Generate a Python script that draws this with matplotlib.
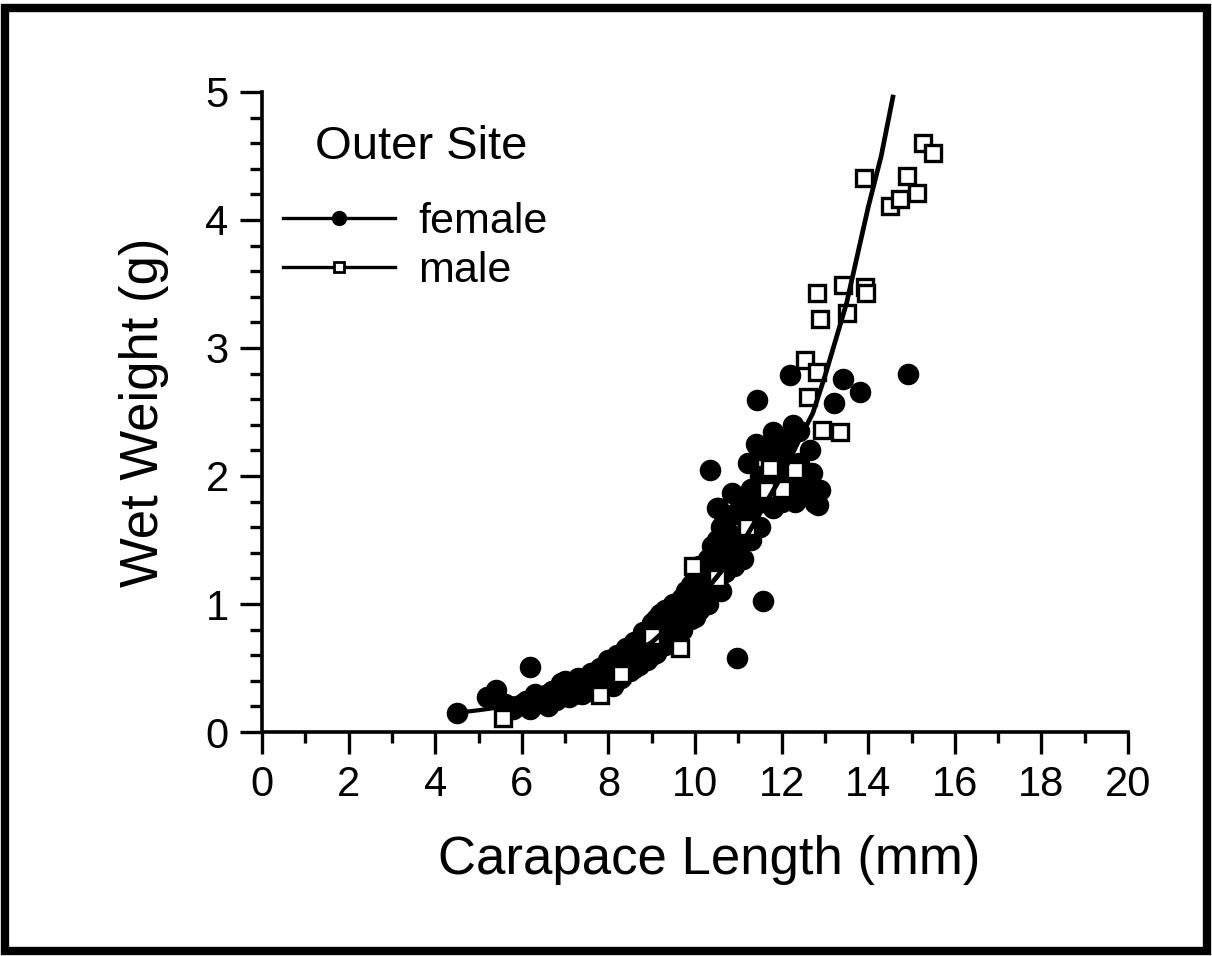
import numpy as np
import matplotlib.pyplot as plt
from matplotlib.lines import Line2D
from matplotlib.patches import Rectangle

plt.rcParams['font.family'] = ['Liberation Sans', 'DejaVu Sans']

# female: carapace length (mm) / wet weight (g)
female_cl = [4.5, 5.2, 5.4, 5.6, 5.8, 5.9, 6.0, 6.1, 6.19, 6.2, 6.3, 6.4, 6.5, 6.6, 6.7, 6.8, 6.9,
             7.0, 7.0, 7.1, 7.2, 7.3, 7.4, 7.5, 7.6, 7.7, 7.8, 7.9, 8.0, 8.0, 8.1, 8.2, 8.2, 8.3,
             8.4, 8.4, 8.5, 8.6, 8.6, 8.7, 8.8, 8.8, 8.9, 9.0, 9.0, 9.1, 9.2, 9.2, 9.3, 9.3, 9.4,
             9.5, 9.5, 9.6, 9.7, 9.7, 9.8, 9.9, 9.9, 10.0, 10.0, 10.1, 10.2, 10.2, 10.3, 10.3,
             10.35, 10.4, 10.4, 10.5, 10.5, 10.53, 10.6, 10.6, 10.65, 10.7, 10.7, 10.8, 10.85,
             10.9, 10.97, 11.0, 11.0, 11.05, 11.1, 11.2, 11.22, 11.3, 11.3, 11.4, 11.43, 11.43,
             11.5, 11.5, 11.57, 11.6, 11.7, 11.8, 11.8, 11.9, 12.0, 12.0, 12.1, 12.19, 12.26,
             12.3, 12.4, 12.5, 12.66, 12.7, 12.77, 12.84, 12.89, 13.2, 13.42, 13.81, 14.92,
             7.4, 7.9, 8.3, 8.7, 9.1, 9.6, 10.1, 6.6, 7.2, 8.5, 9.4, 10.8,
             5.7, 6.3, 6.8, 7.1, 7.5, 7.7, 8.0, 8.1, 8.3, 8.5, 8.6, 8.9, 9.0, 9.1, 9.2, 9.4,
             9.5, 9.6, 9.8, 9.9, 10.0, 10.1, 10.2, 10.3, 10.4, 10.5, 10.6, 10.7, 10.8, 10.9,
             11.0, 11.1, 11.2, 11.3, 11.4, 11.5, 11.6, 11.7, 11.8, 11.9, 12.0, 12.1, 12.2,
             12.3, 12.4, 12.5, 12.6]
female_ww = [0.15, 0.27, 0.33, 0.22, 0.18, 0.20, 0.22, 0.24, 0.51, 0.18, 0.22, 0.25, 0.28, 0.20, 0.32, 0.25, 0.38,
             0.30, 0.40, 0.27, 0.35, 0.42, 0.30, 0.38, 0.46, 0.34, 0.50, 0.40, 0.56, 0.45, 0.36, 0.60, 0.50, 0.42,
             0.66, 0.55, 0.48, 0.70, 0.60, 0.52, 0.78, 0.65, 0.56, 0.85, 0.72, 0.62, 0.92, 0.80, 0.68, 0.95, 0.85,
             0.75, 1.00, 0.90, 0.80, 1.05, 0.95, 1.15, 0.88, 1.05, 1.20, 0.95, 1.25, 1.10, 1.35, 1.00,
             2.05, 1.45, 1.20, 1.30, 1.75, 1.75, 1.60, 1.10, 1.62, 1.40, 1.25, 1.55, 1.87,
             1.30, 0.58, 1.50, 1.70, 1.75, 1.35, 1.65, 2.10, 1.50, 1.90, 2.25, 2.59, 2.24,
             1.60, 2.00, 1.02, 1.80, 2.20, 2.34, 1.75, 2.00, 2.15, 1.80, 1.90, 2.79, 2.40,
             1.95, 2.10, 1.85, 2.20, 2.02, 1.79, 1.77, 1.89, 2.57, 2.76, 2.66, 2.80,
             0.36, 0.47, 0.55, 0.62, 0.80, 0.85, 1.12, 0.30, 0.30, 0.62, 0.92, 1.45,
             0.20, 0.30, 0.33, 0.36, 0.32, 0.44, 0.38, 0.52, 0.58, 0.62, 0.50, 0.70, 0.60, 0.88, 0.70, 0.75,
             0.90, 1.00, 1.10, 1.00, 0.90, 1.30, 1.00, 1.20, 1.35, 1.50, 1.35, 1.55, 1.35, 1.70,
             1.40, 1.80, 1.50, 1.75, 1.60, 2.20, 1.95, 1.90, 2.10, 2.30, 2.00, 2.25, 2.10,
             1.80, 2.35, 2.00, 1.90]

# male
male_cl = [5.57, 7.8, 8.3, 9.0, 9.65, 9.95, 10.5, 11.2, 11.66, 11.73, 12.0, 12.3, 12.54, 12.61,
           12.82, 12.82, 12.89, 12.93, 13.35, 13.42, 13.51, 13.93, 13.95, 13.9, 14.5, 14.73,
           14.9, 15.13, 15.27, 15.5]
male_ww = [0.11, 0.29, 0.45, 0.75, 0.66, 1.30, 1.20, 1.60, 1.89, 2.06, 1.90, 2.05, 2.91, 2.62,
           2.81, 3.43, 3.23, 2.36, 2.34, 3.49, 3.27, 3.48, 3.43, 4.33, 4.11, 4.16,
           4.34, 4.21, 4.60, 4.52]

# fitted curves
fit_f_cl = [4.5, 5.0, 5.43, 6.0, 7.0, 8.0, 9.0, 10.0, 11.0, 12.0, 12.5]
fit_f_ww = [0.15, 0.17, 0.19, 0.24, 0.34, 0.49, 0.70, 1.00, 1.42, 2.00, 2.35]
fit_m_cl = [5.57, 6.0, 7.0, 8.0, 9.0, 10.0, 11.0, 12.0, 12.4, 12.72, 13.0, 13.5, 14.0, 14.3, 14.57]
fit_m_ww = [0.20, 0.24, 0.34, 0.49, 0.70, 1.00, 1.42, 2.00, 2.28, 2.49, 2.78, 3.35, 4.10, 4.50, 4.96]

fig = plt.figure(figsize=(12.12, 9.56), dpi=100)
ax = fig.add_axes([0.2162, 0.2343, 0.7145, 0.6695])

ax.plot(female_cl, female_ww, 'o', color='k', ms=14.5, zorder=2, linestyle='none')
ax.plot(male_cl, male_ww, 's', mfc='white', mec='k', mew=2.4, ms=11.5, zorder=3, linestyle='none')
ax.plot(fit_f_cl, fit_f_ww, color='k', lw=3, zorder=4)
ax.plot(fit_m_cl, fit_m_ww, color='k', lw=3.4, zorder=4)

ax.set_xlim(0, 20)
ax.set_ylim(0, 5)
ax.set_xticks(np.arange(0, 21, 2))
ax.set_xticks(np.arange(1, 20, 2), minor=True)
ax.set_yticks(np.arange(0, 6, 1))
ax.set_yticks(np.arange(0, 5.01, 0.2), minor=True)

for s in ['top', 'right']:
    ax.spines[s].set_visible(False)
for s in ['left', 'bottom']:
    ax.spines[s].set_linewidth(2.6)

ax.tick_params(which='major', length=16, width=2.4, labelsize=30, pad=8)
ax.tick_params(which='minor', length=8, width=2.4)
ax.tick_params(axis='y', which='minor', length=9)

ax.set_xlabel('Carapace Length (mm)', fontsize=38, labelpad=21)
ax.xaxis.label.set_x(0.516)
ax.set_ylabel('Wet Weight (g)', fontsize=38, labelpad=26)

ax.text(0.061, 0.914, 'Outer Site', transform=ax.transAxes, fontsize=34, va='center', ha='left')
handles = [Line2D([], [], color='k', lw=2.4, marker='o', ms=10),
           Line2D([], [], color='k', lw=2.4, marker='s', ms=7, mfc='white', mew=2)]
leg = ax.legend(handles, ['female', 'male'], loc='upper left',
                bbox_to_anchor=(-0.016, 0.882), frameon=False, fontsize=31,
                handlelength=2.6, handletextpad=0.55, labelspacing=0.22, borderpad=0.3)

fig.patches.append(Rectangle((0.004, 0.005), 0.992, 0.987, transform=fig.transFigure,
                             fill=False, lw=6, edgecolor='k'))

fig.savefig('out.png', dpi=100)
